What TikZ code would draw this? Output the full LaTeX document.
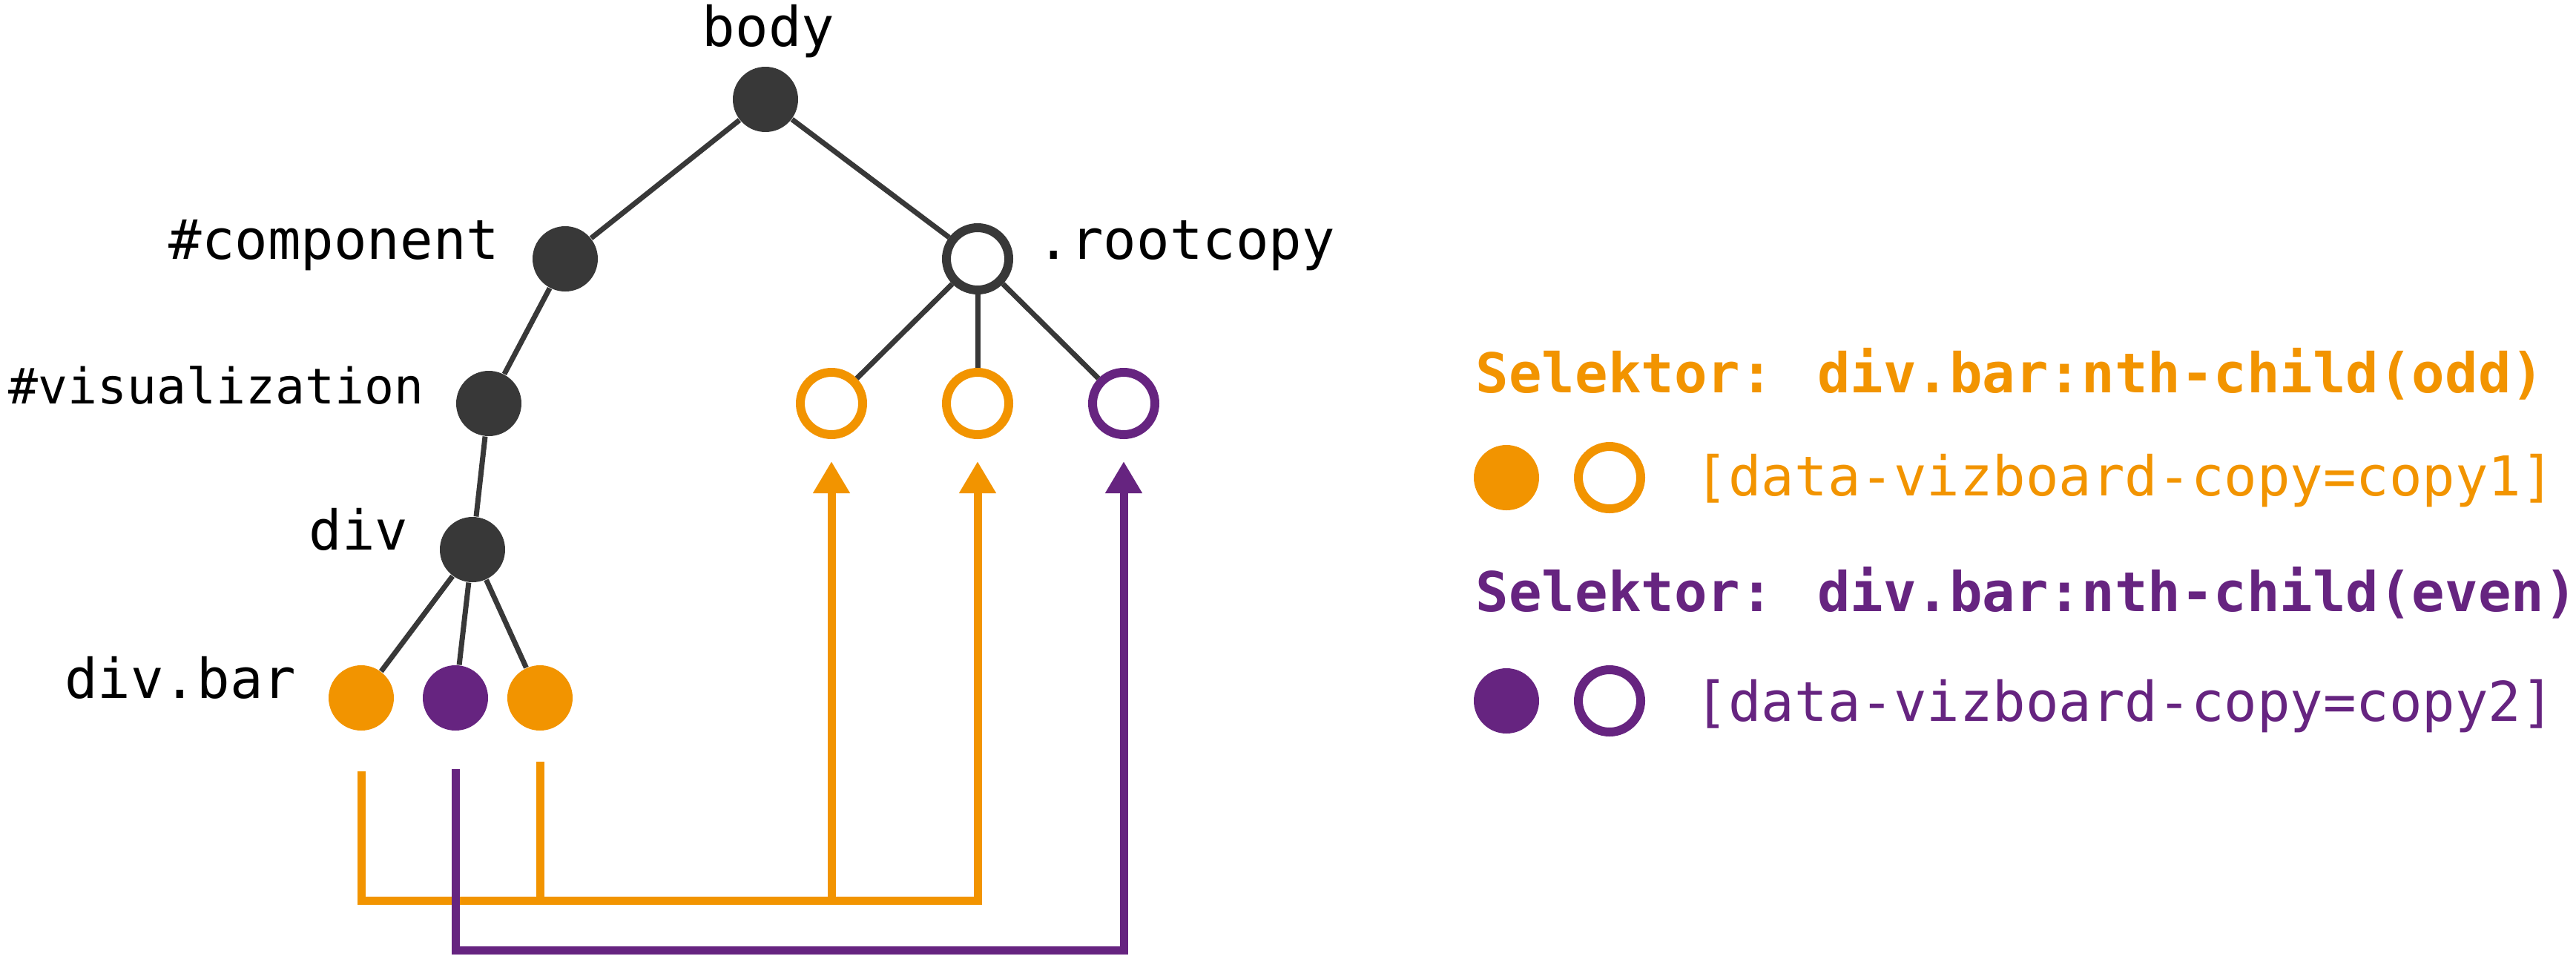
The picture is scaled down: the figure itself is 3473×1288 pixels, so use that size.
\documentclass[tikz,border=0pt]{standalone}
\usepackage{fontspec}
\newfontfamily\monof{DejaVu Sans Mono}
\usetikzlibrary{arrows.meta,calc}
\definecolor{dk}{HTML}{383838}
\definecolor{og}{HTML}{F29400}
\definecolor{pu}{HTML}{662480}
\begin{document}
\begin{tikzpicture}[x=0.25pt,y=-0.25pt,
  fill dot/.style={circle,inner sep=0pt,minimum size=22pt,fill=#1},
  open dot/.style={circle,inner sep=0pt,minimum size=21pt,draw=#1,line width=3pt,fill=white},
  treeedge/.style={draw=dk,line width=1.75pt},
  lbl/.style={font=\monof\fontsize{18.5}{22}\selectfont,inner sep=0pt,text=black},
  smalllbl/.style={font=\monof\fontsize{16.6}{20}\selectfont,inner sep=0pt,text=black},
  sel/.style={font=\monof\bfseries\fontsize{18.5}{22}\selectfont,inner sep=0pt,text=#1,anchor=base west},
  attr/.style={font=\monof\fontsize{18.5}{22}\selectfont,inner sep=0pt,text=#1,anchor=base west},
  conn/.style={draw=#1,line width=2.75pt},
  tipped/.style={-{Triangle[width=11.75pt,length=10.75pt]}}]
\useasboundingbox (0,0) rectangle (3473,1288);

% tree nodes
\node[fill dot=dk] (body) at (1032,134) {};
\node[fill dot=dk] (comp) at (762,349) {};
\node[open dot=dk] (root) at (1318,349) {};
\node[fill dot=dk] (vis) at (659,544) {};
\node[fill dot=dk] (div) at (637,741) {};
\node[fill dot=og] (b1) at (487,941) {};
\node[fill dot=pu] (b2) at (614,941) {};
\node[fill dot=og] (b3) at (728,941) {};
\node[open dot=og] (c1) at (1121,544) {};
\node[open dot=og] (c2) at (1318,544) {};
\node[open dot=pu] (c3) at (1515,544) {};

% tree edges
\draw[treeedge] (body) -- (comp);
\draw[treeedge] (body) -- (root);
\draw[treeedge] (comp) -- (vis);
\draw[treeedge] (vis) -- (div);
\draw[treeedge] (div) -- (b1);
\draw[treeedge] (div) -- (b2);
\draw[treeedge] (div) -- (b3);
\draw[treeedge] (root) -- (c1);
\draw[treeedge] (root) -- (c2);
\draw[treeedge] (root) -- (c3);

% labels
\node[lbl,anchor=base] (lbody) at (1036,62) {body};
\node[lbl,anchor=base east] (lcomp) at (674,349) {\#component};
\node[lbl,anchor=base west] (lroot) at (1398,349) {.rootcopy};
\node[smalllbl,anchor=base east] (lvis) at (572,544) {\#visualization};
\node[lbl,anchor=base east] (ldiv) at (551,741) {div};
\node[lbl,anchor=base east] (lbar) at (400,941) {div.bar};

% connectors
\coordinate (o1) at ($(b1)+(0,99)$);
\coordinate (o3) at ($(b3)+(0,86)$);
\coordinate (p2) at ($(b2)+(0,96)$);
\coordinate (obase) at (0,1214);
\coordinate (pbase) at (0,1281);
\coordinate (tipy) at (0,622);
\draw[conn=og,tipped] (o1) -- (o1 |- obase) -- (c2 |- obase) -- (c2 |- tipy);
\draw[conn=og] (o3) -- (o3 |- obase);
\draw[conn=og,tipped] (c1 |- obase) -- (c1 |- tipy);
\draw[conn=pu,tipped] (p2) -- (p2 |- pbase) -- (c3 |- pbase) -- (c3 |- tipy);

% legend
\node[sel=og] (sel1) at (1989,529) {Selektor: div.bar:nth-child(odd)};
\node[fill dot=og] (ld1) at (2031,644) {};
\node[open dot=og] (lo1) at (2170,644) {};
\node[attr=og] (t1) at (2285,668) {[data-vizboard-copy=copy1]};
\node[sel=pu] (sel2) at (1989,824) {Selektor: div.bar:nth-child(even)};
\node[fill dot=pu] (ld2) at (2031,945) {};
\node[open dot=pu] (lo2) at (2170,945) {};
\node[attr=pu] (t2) at (2285,972) {[data-vizboard-copy=copy2]};
\end{tikzpicture}
\end{document}
